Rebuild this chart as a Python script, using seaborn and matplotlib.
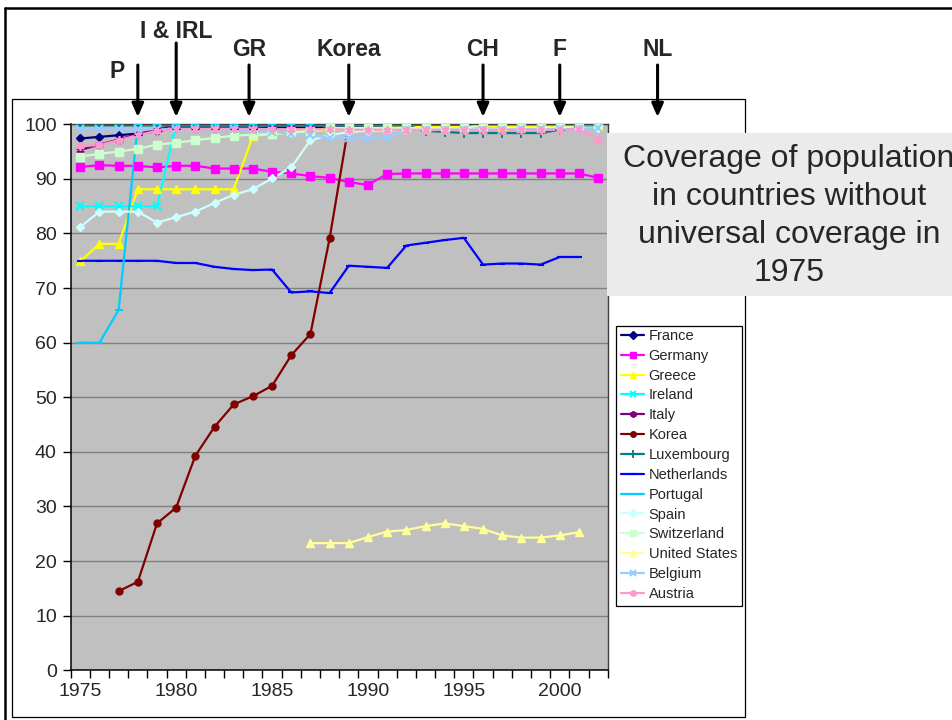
import numpy as np
import pandas as pd
import matplotlib
matplotlib.use("Agg")
import matplotlib.pyplot as plt
from matplotlib.lines import Line2D
from matplotlib.patches import Rectangle
import seaborn as sns

nan = np.nan
years = list(range(1975, 2003))

france = [97.4, 97.7, 98.0, 98.3, 98.7, 99.4, 99.4, 99.4, 99.4, 99.4, 99.4, 99.4, 99.4, 99.4,
          99.4, 99.4, 99.4, 99.4, 99.4, 99.4, 99.4, 99.4, 99.4, 99.4, 99.4, 100, 100, 100]
germany = [92.2, 92.5, 92.4, 92.4, 92.1, 92.4, 92.4, 91.9, 91.9, 91.9, 91.3, 91.0, 90.5, 90.2,
           89.4, 88.9, 90.9, 91.0, 91.0, 91.0, 91.0, 91.0, 91.0, 91.0, 91.0, 91.0, 91.0, 90.2]
greece = [74.9, 78.1, 78.1, 88.1, 88.1, 88.1, 88.1, 88.1, 88.1, 97.9, 98.2, 98.5, 98.8, 99.0,
          99.2, 99.3, 99.4, 99.5, 99.5, 99.5, 99.5, 99.6, 99.6, 99.6, 99.6, 99.6, 99.6, 99.6]
ireland = [85.0, 85.0, 85.0, 85.0, 85.0, 100, 100, 100, 100, 100, 100, 100, 100, 100,
           100, 100, 100, 100, 100, 100, 100, 100, 100, 100, 100, 100, 100, 100]
italy = [95.3, 96.3, 97.2, 98.2, 99.0, 100, 100, 100, 100, 100, 100, 100, 100, 100,
         100, 100, 100, 100, 100, 100, 100, 100, 100, 100, 100, 100, 100, 100]
korea = [nan, nan, 14.5, 16.2, 26.9, 29.8, 39.3, 44.6, 48.7, 50.2, 52.1, 57.7, 61.6, 79.1,
         100, 100, 100, 100, 100, 100, 100, 100, 100, 100, 100, 100, 100, 100]
luxembourg = [99.8, 99.8, 99.8, 99.8, 99.8, 99.8, 99.8, 99.8, 99.8, 99.8, 99.8, 99.8, 99.8, 99.8,
              99.8, 99.8, 99.8, 99.8, 98.8, 98.6, 98.4, 98.4, 98.4, 98.4, 98.4, 99.0, 99.5, 99.8]
netherlands = [75.0, 75.0, 75.0, 75.0, 75.0, 74.6, 74.6, 73.9, 73.5, 73.3, 73.4, 69.2, 69.4, 69.1,
               74.1, 73.9, 73.7, 77.8, 78.3, 78.8, 79.2, 74.3, 74.5, 74.5, 74.3, 75.7, 75.7, nan]
portugal = [60.0, 60.0, 66.0, 100, 100, 100, 100, 100, 100, 100, 100, 100, 100, 100,
            100, 100, 100, 100, 100, 100, 100, 100, 100, 100, 100, 100, 100, 100]
spain = [81.2, 84.0, 84.0, 84.0, 82.0, 83.0, 84.0, 85.6, 87.1, 88.1, 90.1, 92.1, 97.1, 98.0,
         98.6, 98.8, 98.9, 99.0, 99.1, 99.1, 99.2, 99.2, 99.3, 99.3, 99.3, 99.4, 99.4, 99.4]
switzerland = [94.1, 94.6, 95.0, 95.5, 96.3, 96.6, 97.1, 97.5, 97.9, 98.1, 98.2, 98.5, 98.8, 99.3,
               99.3, 99.3, 99.3, 99.3, 99.3, 99.3, 99.3, 100, 100, 100, 100, 100, 100, 100]
united_states = [nan, nan, nan, nan, nan, nan, nan, nan, nan, nan, nan, nan, 23.3, 23.3,
                 23.3, 24.4, 25.4, 25.7, 26.4, 26.9, 26.4, 25.9, 24.7, 24.3, 24.3, 24.7, 25.3, nan]
belgium = [99.1, 99.1, 99.1, 99.1, 99.1, 99.1, 99.1, 99.1, 99.1, 98.9, 98.6, 98.3, 98.0, 97.5,
           97.5, 97.5, 97.5, 98.9, 98.9, 99.0, 99.0, 99.0, 99.0, 99.1, 99.1, 99.1, 99.2, 99.3]
austria = [96.0, 96.2, 97.1, 98.0, 98.8, 99.2, 99.2, 99.2, 99.2, 99.2, 99.1, 99.1, 99.1, 99.1,
           99.0, 99.0, 99.0, 99.0, 99.0, 99.0, 99.0, 99.0, 99.0, 99.0, 99.0, 99.0, 99.1, 97.1]

countries = ["France", "Germany", "Greece", "Ireland", "Italy", "Korea", "Luxembourg",
             "Netherlands", "Portugal", "Spain", "Switzerland", "United States",
             "Belgium", "Austria"]
series = [france, germany, greece, ireland, italy, korea, luxembourg,
          netherlands, portugal, spain, switzerland, united_states, belgium, austria]

reform_labels = ["P", "I & IRL", "GR", "Korea", "CH", "F", "NL"]
reform_years = [1978, 1980, 1983.8, 1989, 1996, 2000, 2005.1]

title_text = "Coverage of population\nin countries without\nuniversal coverage in\n1975"

# Excel-style colours and marker shapes per series
asterisk = (6, 2, 0)
styles = {
    "France":        dict(color="#000080", marker="D", ms=4.5, mew=1.0),
    "Germany":       dict(color="#FF00FF", marker="s", ms=5.5, mew=1.0),
    "Greece":        dict(color="#FFFF00", marker="^", ms=6.0, mew=1.0),
    "Ireland":       dict(color="#00FFFF", marker="x", ms=5.5, mew=1.5),
    "Italy":         dict(color="#800080", marker=asterisk, ms=6.0, mew=1.3),
    "Korea":         dict(color="#800000", marker="o", ms=5.0, mew=1.0),
    "Luxembourg":    dict(color="#008080", marker="+", ms=6.5, mew=1.3),
    "Netherlands":   dict(color="#0000FF", marker="_", ms=5.0, mew=1.5),
    "Portugal":      dict(color="#00CCFF", marker="_", ms=6.0, mew=1.5),
    "Spain":         dict(color="#CCFFFF", marker="D", ms=4.5, mew=1.0),
    "Switzerland":   dict(color="#CCFFCC", marker="s", ms=5.5, mew=1.0),
    "United States": dict(color="#FFFF99", marker="^", ms=6.0, mew=1.0),
    "Belgium":       dict(color="#99CCFF", marker="x", ms=5.5, mew=1.5),
    "Austria":       dict(color="#FF99CC", marker=asterisk, ms=6.0, mew=1.3),
}

df = pd.DataFrame({"year": years})
for name, vals in zip(countries, series):
    df[name] = vals

sns.set_style("ticks")
plt.rcParams["font.family"] = ["Liberation Sans", "DejaVu Sans"]

W, H = 953, 720
fig = plt.figure(figsize=(W / 100, H / 100), dpi=100)


def fx(px):
    return px / W


def fy(py):
    return 1 - py / H


# page frame and white chart box
fig.add_artist(Rectangle((fx(12), fy(717)), fx(745) - fx(12), fy(99) - fy(717),
                         transform=fig.transFigure, facecolor="white",
                         edgecolor="black", lw=0.9, zorder=-2))
fig.add_artist(Line2D([fx(5), 1.0], [fy(8), fy(8)], transform=fig.transFigure,
                      color="black", lw=1.8, zorder=-1))
fig.add_artist(Line2D([fx(5), fx(5)], [fy(8), 0.0], transform=fig.transFigure,
                      color="black", lw=1.8, zorder=-1))

ax_left, ax_right, ax_top, ax_bottom = 70.7, 607.7, 124.3, 670.3
ax = fig.add_axes([fx(ax_left), fy(ax_bottom), fx(ax_right) - fx(ax_left),
                   fy(ax_top) - fy(ax_bottom)])
ax.set_facecolor("#C0C0C0")

# lines first, then markers on top
for name in countries:
    st = styles[name]
    sub = df[["year", name]].dropna()
    sns.lineplot(data=sub, x="year", y=name, ax=ax, color=st["color"], lw=1.6,
                 legend=False, zorder=2)
for name in countries:
    st = styles[name]
    sub = df[["year", name]].dropna()
    sns.lineplot(data=sub, x="year", y=name, ax=ax, color=st["color"], ls="",
                 marker=st["marker"], ms=st["ms"], mew=st["mew"],
                 mec=st["color"], mfc=st["color"], legend=False, zorder=3)

ax.set_xlim(1974.5, 2002.5)
ax.set_ylim(0, 100)
ax.set_xlabel("")
ax.set_ylabel("")
ax.set_yticks(range(0, 101, 10))
ax.yaxis.grid(True, color="#808080", lw=1.0)
ax.xaxis.grid(False)
ax.set_axisbelow(True)

ax.set_xticks(np.arange(1974.5, 2003, 1.0))
ax.set_xticklabels([])
ax.set_xticks([1975, 1980, 1985, 1990, 1995, 2000], minor=True)
ax.set_xticklabels(["1975", "1980", "1985", "1990", "1995", "2000"], minor=True)
ax.tick_params(axis="x", which="major", length=6, width=1, color="black", direction="out")
ax.tick_params(axis="x", which="minor", length=0, pad=9, labelsize=14)
ax.tick_params(axis="y", length=6, width=1, color="black", direction="out",
               pad=4, labelsize=14)

for side in ["left", "bottom"]:
    ax.spines[side].set_color("black")
    ax.spines[side].set_linewidth(1.1)
for side in ["top", "right"]:
    ax.spines[side].set_color("#404040")
    ax.spines[side].set_linewidth(1.0)

# reform markers above the plot
trans = ax.get_xaxis_transform()
span = ax_bottom - ax_top


def yfrac(py):
    return (ax_bottom - py) / span


for lab, yr in zip(reform_labels, reform_years):
    if lab == "P":
        tx, ty, top = 1976.9, 71, 65
    elif lab == "I & IRL":
        tx, ty, top = yr, 32, 43
    else:
        tx, ty, top = yr, 49, 65
    ax.annotate("", xy=(yr, yfrac(117)), xytext=(yr, yfrac(top)),
                xycoords=trans, textcoords=trans, annotation_clip=False,
                arrowprops=dict(arrowstyle="-|>,head_length=0.8,head_width=0.35",
                                color="black", lw=2.2, shrinkA=0, shrinkB=0))
    ax.text(tx, yfrac(ty), lab, transform=trans, ha="center", va="center",
            fontsize=16.5, fontweight="bold", clip_on=False)

# legend with a hand-placed frame
fig.add_artist(Rectangle((fx(616), fy(606)), fx(742) - fx(616), fy(326) - fy(606),
                         transform=fig.transFigure, facecolor="white",
                         edgecolor="black", lw=0.9, zorder=6))
handles = [Line2D([0], [0], color=styles[n]["color"], lw=1.6, marker=styles[n]["marker"],
                  ms=styles[n]["ms"] * 0.8, mew=styles[n]["mew"],
                  mec=styles[n]["color"], mfc=styles[n]["color"]) for n in countries]
leg = fig.legend(handles, countries, loc="upper left",
                 bbox_to_anchor=(fx(621), fy(329)), bbox_transform=fig.transFigure,
                 fontsize=10.5, frameon=False, borderpad=0, labelspacing=0.40,
                 handlelength=1.6, handletextpad=0.3, borderaxespad=0)
leg.set_zorder(7)

# title panel
fig.add_artist(Rectangle((fx(607), fy(296)), 1.0 - fx(607), fy(133) - fy(296),
                         transform=fig.transFigure, facecolor="#EBEBEB",
                         edgecolor="none", zorder=5))
fig.text(fx(789), fy(216), title_text, ha="center", va="center", fontsize=23,
         linespacing=1.34, multialignment="center", zorder=7)

fig.savefig("out.png", dpi=100)
